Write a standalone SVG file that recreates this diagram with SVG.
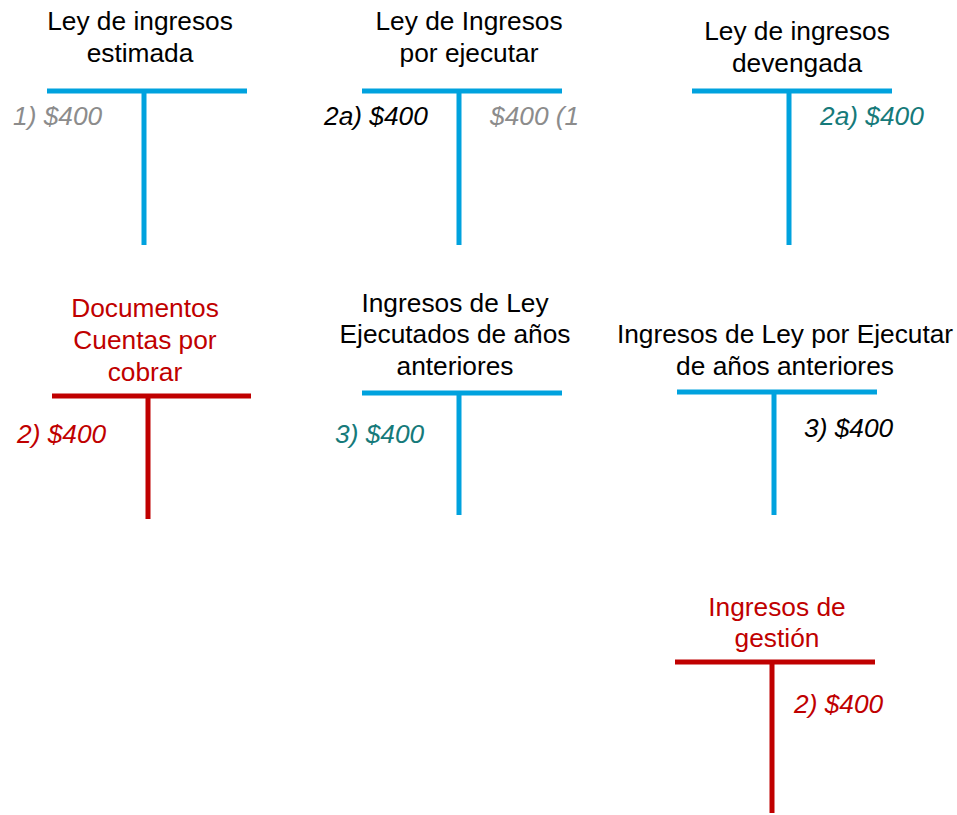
<svg xmlns="http://www.w3.org/2000/svg" width="957" height="815" viewBox="0 0 957 815">
<style>
.t{font-family:"Liberation Sans",Arial,sans-serif;font-size:26.3px;text-anchor:middle;fill:#000}
.r{fill:#C00000}
.a{font-family:"Liberation Sans",Arial,sans-serif;font-size:26.3px;font-style:italic}
.blue{stroke:#00A2DE;stroke-width:5;fill:none}
.red{stroke:#C00000;stroke-width:5;fill:none}
.gray{fill:#8C8C8C}.black{fill:#000}.teal{fill:#167A7A}.redt{fill:#C00000}
</style>
<rect width="957" height="815" fill="#fff"/>
<g id="t1">
<text class="t" x="140" y="30">Ley de ingresos</text>
<text class="t" x="140" y="62">estimada</text>
<path class="blue" d="M47 91H247M144 91V245"/>
<text class="a gray" x="13" y="125">1) $400</text>
</g>
<g id="t2">
<text class="t" x="469" y="30">Ley de Ingresos</text>
<text class="t" x="469" y="62">por ejecutar</text>
<path class="blue" d="M362 91H562M459 91V245"/>
<text class="a black" x="324" y="125">2a) $400</text>
<text class="a gray" x="490" y="125">$400 (1</text>
</g>
<g id="t3">
<text class="t" x="797" y="40">Ley de ingresos</text>
<text class="t" x="797" y="72">devengada</text>
<path class="blue" d="M692 91H892M789 91V245"/>
<text class="a teal" x="820" y="125">2a) $400</text>
</g>
<g id="t4">
<text class="t r" x="145" y="317">Documentos</text>
<text class="t r" x="145" y="349">Cuentas por</text>
<text class="t r" x="145" y="381">cobrar</text>
<path class="red" d="M52 396H251M148 396V519"/>
<text class="a redt" x="17" y="443">2) $400</text>
</g>
<g id="t5">
<text class="t" x="455" y="312">Ingresos de Ley</text>
<text class="t" x="455" y="343">Ejecutados de años</text>
<text class="t" x="455" y="375">anteriores</text>
<path class="blue" d="M362 393H562M459 393V515"/>
<text class="a teal" x="335" y="443">3) $400</text>
</g>
<g id="t6">
<text class="t" x="785" y="343">Ingresos de Ley por Ejecutar</text>
<text class="t" x="785" y="375">de años anteriores</text>
<path class="blue" d="M677 392H877M774 392V515"/>
<text class="a black" x="804" y="437">3) $400</text>
</g>
<g id="t7">
<text class="t r" x="777" y="616">Ingresos de</text>
<text class="t r" x="777" y="647">gestión</text>
<path class="red" d="M675 662H875M772 662V813"/>
<text class="a redt" x="794" y="713">2) $400</text>
</g>
<g id="connectors"></g>
</svg>
